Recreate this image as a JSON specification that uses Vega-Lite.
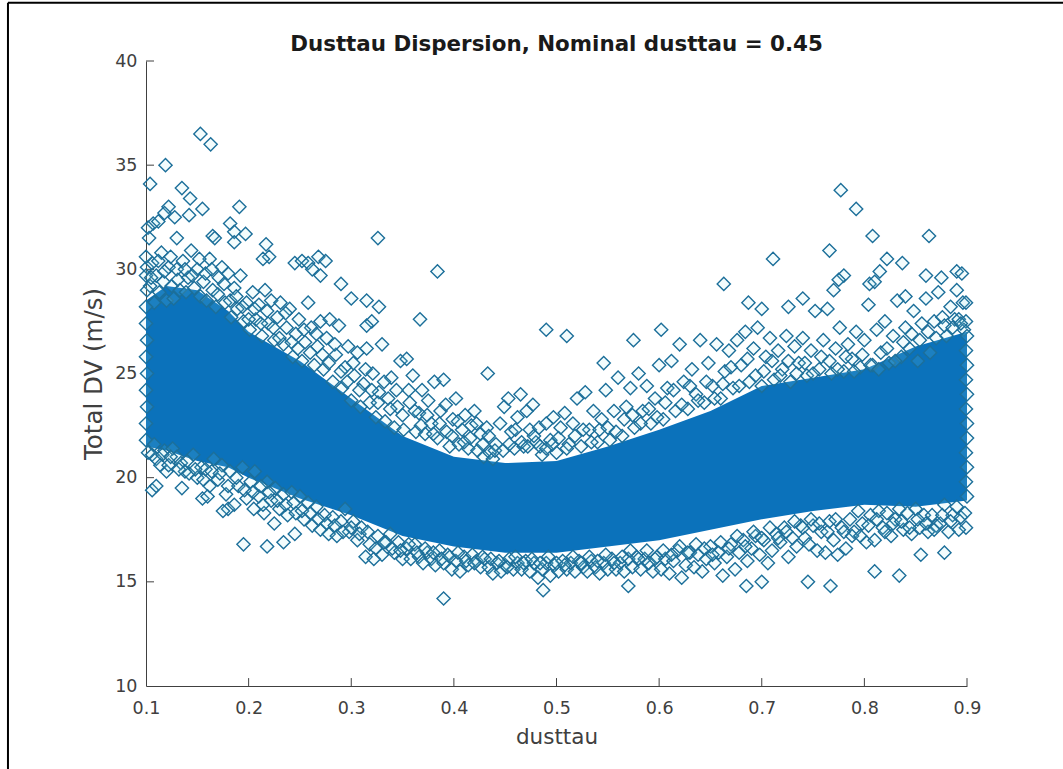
{"$schema":"https://vega.github.io/schema/vega-lite/v6.json","width":821,"height":625,"autosize":"none","padding":{"left":146,"top":61,"right":96,"bottom":83},"background":"white","view":{"stroke":null},
"title":{"text":"Dusttau Dispersion, Nominal dusttau = 0.45","font":"DejaVu Sans","fontSize":21.4,"fontWeight":"bold","color":"#1a1a1a","anchor":"middle","offset":-54},
"datasets":{"core":[{"x":0.1,"lo":21.5,"hi":28.5},{"x":0.12,"lo":21.3,"hi":29.2},{"x":0.15,"lo":20.8,"hi":29},{"x":0.18,"lo":20.5,"hi":28},{"x":0.2,"lo":20,"hi":27},{"x":0.25,"lo":19,"hi":25.6},{"x":0.3,"lo":18.2,"hi":23.8},{"x":0.35,"lo":17.2,"hi":22},{"x":0.4,"lo":16.7,"hi":21},{"x":0.45,"lo":16.4,"hi":20.7},{"x":0.5,"lo":16.4,"hi":20.8},{"x":0.55,"lo":16.7,"hi":21.5},{"x":0.6,"lo":17,"hi":22.3},{"x":0.65,"lo":17.5,"hi":23.2},{"x":0.7,"lo":18,"hi":24.4},{"x":0.75,"lo":18.4,"hi":24.8},{"x":0.8,"lo":18.7,"hi":25.2},{"x":0.85,"lo":18.6,"hi":26.3},{"x":0.9,"lo":18.9,"hi":27}],
"xt":[{"x":0.2,"a":10,"b":10.38},{"x":0.3,"a":10,"b":10.38},{"x":0.4,"a":10,"b":10.38},{"x":0.5,"a":10,"b":10.38},{"x":0.6,"a":10,"b":10.38},{"x":0.7,"a":10,"b":10.38},{"x":0.8,"a":10,"b":10.38},{"x":0.9,"a":10,"b":10.38}],
"yt":[{"y":15,"a":0.1,"b":0.1078},{"y":20,"a":0.1,"b":0.1078},{"y":25,"a":0.1,"b":0.1078},{"y":30,"a":0.1,"b":0.1078},{"y":35,"a":0.1,"b":0.1078},{"y":40,"a":0.1,"b":0.1078}],
"pts":[{"x":0.153,"y":36.5},{"x":0.163,"y":36},{"x":0.119,"y":35},{"x":0.104,"y":34.1},{"x":0.135,"y":33.9},{"x":0.143,"y":33.4},{"x":0.122,"y":33},{"x":0.118,"y":32.7},{"x":0.128,"y":32.5},{"x":0.142,"y":32.6},{"x":0.155,"y":32.9},{"x":0.191,"y":33},{"x":0.182,"y":32.2},{"x":0.186,"y":31.8},{"x":0.197,"y":31.7},{"x":0.107,"y":32.2},{"x":0.102,"y":32},{"x":0.112,"y":32.3},{"x":0.103,"y":31.5},{"x":0.13,"y":31.5},{"x":0.165,"y":31.6},{"x":0.167,"y":31.5},{"x":0.217,"y":31.2},{"x":0.186,"y":31.3},{"x":0.326,"y":31.5},{"x":0.22,"y":30.6},{"x":0.214,"y":30.5},{"x":0.245,"y":30.3},{"x":0.252,"y":30.4},{"x":0.258,"y":30.3},{"x":0.268,"y":30.6},{"x":0.275,"y":30.4},{"x":0.262,"y":30},{"x":0.27,"y":29.7},{"x":0.29,"y":29.3},{"x":0.3,"y":28.6},{"x":0.315,"y":28.5},{"x":0.327,"y":28.2},{"x":0.384,"y":29.9},{"x":0.367,"y":27.6},{"x":0.32,"y":27.5},{"x":0.315,"y":27.3},{"x":0.49,"y":27.1},{"x":0.51,"y":26.8},{"x":0.433,"y":25},{"x":0.546,"y":25.5},{"x":0.575,"y":26.6},{"x":0.602,"y":27.1},{"x":0.663,"y":29.3},{"x":0.711,"y":30.5},{"x":0.687,"y":28.4},{"x":0.7,"y":28.1},{"x":0.726,"y":28.2},{"x":0.74,"y":28.6},{"x":0.766,"y":30.9},{"x":0.777,"y":33.8},{"x":0.792,"y":32.9},{"x":0.808,"y":31.6},{"x":0.863,"y":31.6},{"x":0.78,"y":29.7},{"x":0.775,"y":29.5},{"x":0.77,"y":29},{"x":0.805,"y":29.3},{"x":0.81,"y":29.4},{"x":0.815,"y":29.9},{"x":0.822,"y":30.5},{"x":0.837,"y":30.3},{"x":0.84,"y":28.7},{"x":0.86,"y":29.7},{"x":0.875,"y":29.6},{"x":0.89,"y":29.9},{"x":0.895,"y":29.8},{"x":0.89,"y":29},{"x":0.39,"y":14.2},{"x":0.487,"y":14.6},{"x":0.57,"y":14.8},{"x":0.685,"y":14.8},{"x":0.7,"y":15},{"x":0.745,"y":15},{"x":0.767,"y":14.8},{"x":0.834,"y":15.3},{"x":0.81,"y":15.5},{"x":0.855,"y":16.3},{"x":0.878,"y":16.4},{"x":0.195,"y":16.8},{"x":0.218,"y":16.7},{"x":0.234,"y":16.9},{"x":0.106,"y":19.4},{"x":0.11,"y":19.6},{"x":0.135,"y":19.5},{"x":0.155,"y":19},{"x":0.16,"y":19.1},{"x":0.12,"y":20.3},{"x":0.18,"y":18.5},{"x":0.175,"y":18.4},{"x":0.205,"y":18.5},{"x":0.215,"y":18.3},{"x":0.225,"y":17.8},{"x":0.245,"y":17.3},
{"x":0.101,"y":30.1},{"x":0.104,"y":29.2},{"x":0.106,"y":30.3},{"x":0.108,"y":28.4},{"x":0.11,"y":29.7},{"x":0.113,"y":28.9},{"x":0.115,"y":30.8},{"x":0.117,"y":29.4},{"x":0.12,"y":28.5},{"x":0.122,"y":30.1},{"x":0.125,"y":29.2},{"x":0.127,"y":28.6},{"x":0.13,"y":30},{"x":0.133,"y":29},{"x":0.136,"y":30.4},{"x":0.139,"y":28.9},{"x":0.141,"y":29.6},{"x":0.144,"y":30.9},{"x":0.147,"y":29.1},{"x":0.15,"y":30},{"x":0.153,"y":28.7},{"x":0.156,"y":29.4},{"x":0.159,"y":28.5},{"x":0.162,"y":30.5},{"x":0.165,"y":29},{"x":0.168,"y":28.2},{"x":0.171,"y":29.6},{"x":0.174,"y":30.1},{"x":0.177,"y":28.4},{"x":0.18,"y":29.8},{"x":0.183,"y":27.7},{"x":0.186,"y":29.1},{"x":0.189,"y":28.1},{"x":0.192,"y":29.7},{"x":0.195,"y":27.5},{"x":0.198,"y":28.4},{"x":0.201,"y":27.1},{"x":0.204,"y":28.9},{"x":0.207,"y":27.6},{"x":0.21,"y":28.3},{"x":0.213,"y":26.8},{"x":0.216,"y":29},{"x":0.219,"y":27.4},{"x":0.222,"y":28.5},{"x":0.225,"y":26.6},{"x":0.228,"y":27.7},{"x":0.231,"y":28.4},{"x":0.234,"y":26.4},{"x":0.237,"y":27.2},{"x":0.24,"y":28.1},{"x":0.243,"y":25.8},{"x":0.246,"y":26.9},{"x":0.249,"y":27.6},{"x":0.252,"y":25.6},{"x":0.255,"y":26.5},{"x":0.258,"y":28.4},{"x":0.261,"y":27.2},{"x":0.264,"y":25.4},{"x":0.267,"y":26.3},{"x":0.27,"y":27.5},{"x":0.273,"y":25.2},{"x":0.276,"y":26.7},{"x":0.279,"y":27.6},{"x":0.282,"y":24.6},{"x":0.285,"y":25.9},{"x":0.288,"y":27.3},{"x":0.291,"y":24.3},{"x":0.294,"y":25.3},{"x":0.297,"y":26.3},{"x":0.3,"y":23.7},{"x":0.303,"y":24.9},{"x":0.306,"y":26},{"x":0.309,"y":23.4},{"x":0.312,"y":24.5},{"x":0.315,"y":26.2},{"x":0.318,"y":23.6},{"x":0.321,"y":25},{"x":0.324,"y":22.9},{"x":0.327,"y":24.1},{"x":0.33,"y":26.4},{"x":0.333,"y":22.7},{"x":0.336,"y":23.8},{"x":0.339,"y":24.8},{"x":0.342,"y":22.4},{"x":0.345,"y":23.4},{"x":0.348,"y":25.6},{"x":0.351,"y":22.3},{"x":0.354,"y":25.7},{"x":0.357,"y":23.6},{"x":0.36,"y":24.9},{"x":0.363,"y":22.2},{"x":0.366,"y":23.1},{"x":0.369,"y":24.2},{"x":0.372,"y":22.1},{"x":0.375,"y":23.7},{"x":0.378,"y":22.6},{"x":0.381,"y":24.6},{"x":0.384,"y":21.9},{"x":0.387,"y":23.2},{"x":0.39,"y":24.7},{"x":0.393,"y":22.2},{"x":0.396,"y":21.5},{"x":0.399,"y":22.8},{"x":0.402,"y":23.8},{"x":0.405,"y":21.6},{"x":0.408,"y":22.3},{"x":0.411,"y":23},{"x":0.414,"y":21.4},{"x":0.417,"y":22.5},{"x":0.42,"y":23.2},{"x":0.423,"y":21.3},{"x":0.426,"y":22.1},{"x":0.429,"y":21},{"x":0.432,"y":22.4},{"x":0.435,"y":21.2},{"x":0.438,"y":20.9},{"x":0.441,"y":21.6},{"x":0.445,"y":22.6},{"x":0.449,"y":23.4},{"x":0.453,"y":23.8},{"x":0.456,"y":22.2},{"x":0.459,"y":21.4},{"x":0.462,"y":22.9},{"x":0.465,"y":24},{"x":0.468,"y":21.5},{"x":0.471,"y":23.2},{"x":0.474,"y":22.3},{"x":0.477,"y":23.5},{"x":0.48,"y":21.7},{"x":0.483,"y":22.4},{"x":0.486,"y":21.1},{"x":0.49,"y":22.6},{"x":0.494,"y":21.8},{"x":0.497,"y":22.9},{"x":0.5,"y":21.2},{"x":0.504,"y":22.4},{"x":0.508,"y":23.1},{"x":0.512,"y":21.6},{"x":0.516,"y":22.6},{"x":0.52,"y":23.8},{"x":0.524,"y":21.5},{"x":0.528,"y":24.1},{"x":0.532,"y":22.3},{"x":0.536,"y":23.2},{"x":0.54,"y":21.7},{"x":0.544,"y":22.8},{"x":0.548,"y":24.2},{"x":0.552,"y":21.8},{"x":0.556,"y":23.2},{"x":0.56,"y":24.8},{"x":0.564,"y":22},{"x":0.568,"y":23.4},{"x":0.572,"y":24.3},{"x":0.576,"y":22.4},{"x":0.58,"y":25},{"x":0.584,"y":23.2},{"x":0.588,"y":24.4},{"x":0.592,"y":22.6},{"x":0.596,"y":23.8},{"x":0.6,"y":25.4},{"x":0.604,"y":22.8},{"x":0.608,"y":24.3},{"x":0.612,"y":25.6},{"x":0.616,"y":23.2},{"x":0.62,"y":26.4},{"x":0.624,"y":24.6},{"x":0.628,"y":23.3},{"x":0.632,"y":25.2},{"x":0.636,"y":24},{"x":0.64,"y":26.6},{"x":0.644,"y":23.6},{"x":0.648,"y":25.5},{"x":0.652,"y":24.4},{"x":0.656,"y":26.4},{"x":0.66,"y":23.8},{"x":0.664,"y":25.1},{"x":0.668,"y":26.1},{"x":0.672,"y":24.3},{"x":0.676,"y":26.6},{"x":0.68,"y":25.4},{"x":0.684,"y":27},{"x":0.688,"y":24.6},{"x":0.692,"y":26.2},{"x":0.696,"y":27.2},{"x":0.7,"y":24.4},{"x":0.704,"y":25.8},{"x":0.708,"y":26.7},{"x":0.712,"y":24.7},{"x":0.716,"y":26.1},{"x":0.72,"y":25.2},{"x":0.724,"y":26.8},{"x":0.728,"y":24.6},{"x":0.732,"y":26.3},{"x":0.736,"y":25.5},{"x":0.74,"y":26.7},{"x":0.744,"y":24.9},{"x":0.748,"y":26.1},{"x":0.752,"y":28},{"x":0.756,"y":25.2},{"x":0.76,"y":26.6},{"x":0.764,"y":28.1},{"x":0.768,"y":25},{"x":0.772,"y":26.2},{"x":0.776,"y":27.2},{"x":0.78,"y":25.1},{"x":0.784,"y":26.4},{"x":0.788,"y":25.7},{"x":0.792,"y":27},{"x":0.796,"y":25.3},{"x":0.8,"y":26.6},{"x":0.804,"y":28.3},{"x":0.808,"y":25.4},{"x":0.812,"y":27.1},{"x":0.816,"y":26},{"x":0.82,"y":27.5},{"x":0.824,"y":25.5},{"x":0.828,"y":26.8},{"x":0.832,"y":28.5},{"x":0.836,"y":25.8},{"x":0.84,"y":27.2},{"x":0.844,"y":26.2},{"x":0.848,"y":28},{"x":0.852,"y":25.6},{"x":0.856,"y":27.4},{"x":0.86,"y":28.6},{"x":0.864,"y":26},{"x":0.868,"y":27.5},{"x":0.872,"y":28.9},{"x":0.876,"y":27.7},{"x":0.88,"y":26.8},{"x":0.884,"y":28.2},{"x":0.888,"y":27.6},{"x":0.892,"y":27.6},{"x":0.896,"y":28.4},{"x":0.899,"y":28.4},{"x":0.899,"y":27.5},{"x":0.897,"y":27.1},
{"x":0.102,"y":21.2},{"x":0.106,"y":21.1},{"x":0.11,"y":20.9},{"x":0.114,"y":20.6},{"x":0.118,"y":21.3},{"x":0.122,"y":20.6},{"x":0.126,"y":21.4},{"x":0.13,"y":21},{"x":0.134,"y":20.7},{"x":0.138,"y":20.3},{"x":0.142,"y":20.2},{"x":0.146,"y":21.1},{"x":0.15,"y":20},{"x":0.154,"y":20.5},{"x":0.158,"y":20.4},{"x":0.162,"y":19.6},{"x":0.166,"y":20.9},{"x":0.17,"y":19.9},{"x":0.174,"y":20.6},{"x":0.178,"y":19.2},{"x":0.182,"y":20.3},{"x":0.186,"y":18.7},{"x":0.19,"y":19.6},{"x":0.194,"y":20.5},{"x":0.198,"y":19},{"x":0.202,"y":19.8},{"x":0.206,"y":20.3},{"x":0.21,"y":19.1},{"x":0.214,"y":18.7},{"x":0.218,"y":19.8},{"x":0.222,"y":18.9},{"x":0.226,"y":19.5},{"x":0.23,"y":18.5},{"x":0.234,"y":19.2},{"x":0.238,"y":18.2},{"x":0.242,"y":19.3},{"x":0.246,"y":18.3},{"x":0.25,"y":19.1},{"x":0.254,"y":18},{"x":0.258,"y":18.8},{"x":0.262,"y":17.7},{"x":0.266,"y":18.6},{"x":0.27,"y":17.5},{"x":0.274,"y":18.2},{"x":0.278,"y":17.3},{"x":0.282,"y":18.1},{"x":0.286,"y":17.2},{"x":0.29,"y":17.9},{"x":0.294,"y":18.5},{"x":0.298,"y":17.4},{"x":0.302,"y":17.9},{"x":0.306,"y":17},{"x":0.31,"y":17.6},{"x":0.314,"y":16.2},{"x":0.318,"y":16.8},{"x":0.322,"y":16.1},{"x":0.326,"y":17.2},{"x":0.33,"y":16.3},{"x":0.334,"y":16.9},{"x":0.338,"y":17.3},{"x":0.342,"y":16.4},{"x":0.346,"y":16.9},{"x":0.35,"y":16.1},{"x":0.354,"y":16.6},{"x":0.358,"y":16.1},{"x":0.362,"y":16.8},{"x":0.366,"y":16.2},{"x":0.37,"y":15.9},{"x":0.374,"y":16.4},{"x":0.378,"y":16.1},{"x":0.382,"y":15.8},{"x":0.386,"y":16.5},{"x":0.39,"y":15.9},{"x":0.394,"y":16.3},{"x":0.398,"y":15.6},{"x":0.402,"y":16},{"x":0.406,"y":15.5},{"x":0.41,"y":16.2},{"x":0.414,"y":15.8},{"x":0.418,"y":16.3},{"x":0.422,"y":16},{"x":0.426,"y":15.7},{"x":0.43,"y":16.1},{"x":0.434,"y":15.7},{"x":0.438,"y":15.4},{"x":0.442,"y":15.9},{"x":0.446,"y":15.5},{"x":0.45,"y":15.8},{"x":0.454,"y":16.1},{"x":0.458,"y":15.6},{"x":0.462,"y":15.9},{"x":0.466,"y":15.6},{"x":0.47,"y":16},{"x":0.474,"y":15.5},{"x":0.478,"y":15.9},{"x":0.482,"y":15.2},{"x":0.486,"y":15.6},{"x":0.49,"y":15.9},{"x":0.494,"y":15.3},{"x":0.498,"y":15.8},{"x":0.502,"y":15.5},{"x":0.506,"y":16},{"x":0.51,"y":15.6},{"x":0.514,"y":15.9},{"x":0.518,"y":15.5},{"x":0.522,"y":16},{"x":0.526,"y":15.7},{"x":0.53,"y":15.5},{"x":0.534,"y":16},{"x":0.538,"y":15.7},{"x":0.542,"y":15.4},{"x":0.546,"y":15.9},{"x":0.55,"y":15.6},{"x":0.554,"y":16.1},{"x":0.558,"y":15.6},{"x":0.562,"y":15.9},{"x":0.566,"y":15.5},{"x":0.57,"y":16.1},{"x":0.574,"y":15.7},{"x":0.578,"y":16.2},{"x":0.582,"y":15.6},{"x":0.586,"y":16.1},{"x":0.59,"y":15.9},{"x":0.594,"y":15.5},{"x":0.598,"y":16.2},{"x":0.602,"y":15.6},{"x":0.606,"y":16.1},{"x":0.61,"y":15.4},{"x":0.614,"y":16},{"x":0.618,"y":16.5},{"x":0.622,"y":15.2},{"x":0.626,"y":15.8},{"x":0.63,"y":16.4},{"x":0.634,"y":15.7},{"x":0.638,"y":16.3},{"x":0.642,"y":15.5},{"x":0.646,"y":16.1},{"x":0.65,"y":16.7},{"x":0.654,"y":15.9},{"x":0.658,"y":16.4},{"x":0.662,"y":15.3},{"x":0.666,"y":16.2},{"x":0.67,"y":16.8},{"x":0.674,"y":15.6},{"x":0.678,"y":16.4},{"x":0.682,"y":17},{"x":0.686,"y":16},{"x":0.69,"y":16.6},{"x":0.694,"y":17.2},{"x":0.698,"y":16.3},{"x":0.702,"y":17},{"x":0.706,"y":15.9},{"x":0.71,"y":16.5},{"x":0.714,"y":17.3},{"x":0.718,"y":16.9},{"x":0.722,"y":17.6},{"x":0.726,"y":16.2},{"x":0.73,"y":17.1},{"x":0.734,"y":16.7},{"x":0.738,"y":17.7},{"x":0.742,"y":17.1},{"x":0.746,"y":16.8},{"x":0.75,"y":17.7},{"x":0.754,"y":16.5},{"x":0.758,"y":17.4},{"x":0.762,"y":16.4},{"x":0.766,"y":17.9},{"x":0.77,"y":17},{"x":0.774,"y":16.3},{"x":0.778,"y":17.6},{"x":0.782,"y":16.6},{"x":0.786,"y":18},{"x":0.79,"y":17.4},{"x":0.794,"y":18.4},{"x":0.798,"y":17.8},{"x":0.802,"y":16.9},{"x":0.806,"y":18.2},{"x":0.81,"y":17},{"x":0.814,"y":18.4},{"x":0.818,"y":17.6},{"x":0.822,"y":18.3},{"x":0.826,"y":17.2},{"x":0.83,"y":18},{"x":0.834,"y":18.5},{"x":0.838,"y":17.5},{"x":0.842,"y":18.3},{"x":0.846,"y":17.3},{"x":0.85,"y":18.5},{"x":0.854,"y":17.6},{"x":0.858,"y":18.2},{"x":0.862,"y":17.4},{"x":0.866,"y":18.2},{"x":0.87,"y":17.7},{"x":0.874,"y":17.8},{"x":0.878,"y":18.7},{"x":0.882,"y":17.4},{"x":0.886,"y":18.2},{"x":0.89,"y":18.6},{"x":0.894,"y":18.1},{"x":0.898,"y":18.3},{"x":0.899,"y":17.6},
{"x":0.1,"y":21.8},{"x":0.1,"y":22.6},{"x":0.101,"y":23.4},{"x":0.1,"y":24.2},{"x":0.101,"y":25},{"x":0.1,"y":25.8},{"x":0.101,"y":26.6},{"x":0.1,"y":27.4},{"x":0.1,"y":28.2},{"x":0.101,"y":29},{"x":0.1,"y":29.7},{"x":0.1,"y":30.6},{"x":0.9,"y":19.1},{"x":0.899,"y":19.8},{"x":0.9,"y":20.5},{"x":0.899,"y":21.2},{"x":0.9,"y":21.9},{"x":0.9,"y":22.6},{"x":0.899,"y":23.3},{"x":0.9,"y":24},{"x":0.899,"y":24.7},{"x":0.9,"y":25.4},{"x":0.899,"y":26.1},{"x":0.9,"y":26.8},
{"x":0.105,"y":29.6},{"x":0.112,"y":30.4},{"x":0.118,"y":29.9},{"x":0.124,"y":30.6},{"x":0.131,"y":29.5},{"x":0.138,"y":30},{"x":0.145,"y":29.7},{"x":0.152,"y":30.5},{"x":0.158,"y":29.8},{"x":0.164,"y":30},{"x":0.17,"y":28.8},{"x":0.176,"y":29.3},{"x":0.182,"y":28.5},{"x":0.188,"y":28.7},{"x":0.194,"y":28.2},{"x":0.2,"y":27.6},{"x":0.206,"y":28.1},{"x":0.212,"y":27.4},{"x":0.218,"y":28},{"x":0.224,"y":27.2},{"x":0.23,"y":26.7},{"x":0.236,"y":27.9},{"x":0.242,"y":26.5},{"x":0.248,"y":26.2},{"x":0.254,"y":27.1},{"x":0.26,"y":26},{"x":0.266,"y":26.9},{"x":0.272,"y":25.9},{"x":0.278,"y":25.5},{"x":0.284,"y":26.4},{"x":0.29,"y":25.1},{"x":0.296,"y":24.6},{"x":0.302,"y":25.5},{"x":0.308,"y":24.2},{"x":0.314,"y":25.2},{"x":0.32,"y":24.2},{"x":0.326,"y":23.6},{"x":0.332,"y":24.6},{"x":0.338,"y":23.3},{"x":0.344,"y":24.2},{"x":0.35,"y":23},{"x":0.356,"y":24.2},{"x":0.362,"y":23.2},{"x":0.368,"y":22.5},{"x":0.374,"y":23},{"x":0.38,"y":22.1},{"x":0.386,"y":22.6},{"x":0.392,"y":23.5},{"x":0.398,"y":22},{"x":0.404,"y":22.7},{"x":0.41,"y":21.7},{"x":0.416,"y":21.9},{"x":0.422,"y":22.6},{"x":0.428,"y":21.6},{"x":0.434,"y":22},{"x":0.44,"y":21.3},{"x":0.448,"y":21.3},{"x":0.454,"y":21.6},{"x":0.46,"y":22.3},{"x":0.466,"y":21.7},{"x":0.472,"y":21.5},{"x":0.478,"y":22},{"x":0.484,"y":21.5},{"x":0.49,"y":21.4},{"x":0.496,"y":21.6},{"x":0.502,"y":21.9},{"x":0.51,"y":21.4},{"x":0.518,"y":22},{"x":0.526,"y":22.3},{"x":0.534,"y":21.7},{"x":0.542,"y":22.3},{"x":0.55,"y":22.4},{"x":0.558,"y":22.2},{"x":0.566,"y":22.8},{"x":0.574,"y":23},{"x":0.582,"y":22.6},{"x":0.59,"y":23.3},{"x":0.598,"y":22.9},{"x":0.606,"y":23.6},{"x":0.614,"y":24.2},{"x":0.622,"y":23.5},{"x":0.63,"y":24.4},{"x":0.638,"y":23.7},{"x":0.646,"y":24.6},{"x":0.654,"y":23.8},{"x":0.662,"y":24.5},{"x":0.67,"y":25.3},{"x":0.678,"y":24.4},{"x":0.686,"y":25.7},{"x":0.694,"y":24.9},{"x":0.702,"y":25.1},{"x":0.71,"y":25.6},{"x":0.718,"y":24.9},{"x":0.726,"y":25.6},{"x":0.734,"y":25},{"x":0.742,"y":25.5},{"x":0.75,"y":25},{"x":0.758,"y":25.8},{"x":0.766,"y":25.6},{"x":0.774,"y":25.2},{"x":0.782,"y":25.8},{"x":0.79,"y":25.1},{"x":0.798,"y":25.9},{"x":0.806,"y":25.4},{"x":0.814,"y":25.2},{"x":0.822,"y":26.2},{"x":0.83,"y":25.6},{"x":0.838,"y":26.5},{"x":0.846,"y":26.9},{"x":0.854,"y":26.6},{"x":0.862,"y":27},{"x":0.87,"y":26.7},{"x":0.878,"y":27.3},{"x":0.886,"y":27.2},{"x":0.894,"y":27.4},
{"x":0.108,"y":21.6},{"x":0.116,"y":21.1},{"x":0.124,"y":21},{"x":0.132,"y":20.4},{"x":0.14,"y":20.8},{"x":0.148,"y":20.4},{"x":0.156,"y":19.9},{"x":0.164,"y":20.3},{"x":0.172,"y":20.2},{"x":0.18,"y":19.6},{"x":0.188,"y":20},{"x":0.196,"y":19.4},{"x":0.204,"y":19.3},{"x":0.212,"y":19.6},{"x":0.22,"y":19.3},{"x":0.228,"y":18.9},{"x":0.236,"y":18.7},{"x":0.244,"y":18.8},{"x":0.252,"y":18.4},{"x":0.26,"y":18.3},{"x":0.268,"y":18},{"x":0.276,"y":17.8},{"x":0.284,"y":17.7},{"x":0.292,"y":17.4},{"x":0.3,"y":17.6},{"x":0.308,"y":17.3},{"x":0.316,"y":17.4},{"x":0.324,"y":16.6},{"x":0.332,"y":16.9},{"x":0.34,"y":16.6},{"x":0.348,"y":16.5},{"x":0.356,"y":16.8},{"x":0.364,"y":16.4},{"x":0.372,"y":16.6},{"x":0.38,"y":16.4},{"x":0.388,"y":16.1},{"x":0.396,"y":16.2},{"x":0.404,"y":16.4},{"x":0.412,"y":16},{"x":0.42,"y":15.9},{"x":0.428,"y":16.2},{"x":0.436,"y":16.1},{"x":0.444,"y":16},{"x":0.452,"y":15.7},{"x":0.46,"y":16.2},{"x":0.468,"y":15.9},{"x":0.476,"y":16.1},{"x":0.484,"y":15.9},{"x":0.492,"y":16.2},{"x":0.5,"y":15.9},{"x":0.508,"y":15.8},{"x":0.516,"y":16.2},{"x":0.524,"y":15.9},{"x":0.532,"y":16.2},{"x":0.54,"y":16},{"x":0.548,"y":16.3},{"x":0.556,"y":15.9},{"x":0.564,"y":16.2},{"x":0.572,"y":16.5},{"x":0.58,"y":16.1},{"x":0.588,"y":16.5},{"x":0.596,"y":16.1},{"x":0.604,"y":16.5},{"x":0.612,"y":16.3},{"x":0.62,"y":16.7},{"x":0.628,"y":16.4},{"x":0.636,"y":16.8},{"x":0.644,"y":16.6},{"x":0.652,"y":16.3},{"x":0.66,"y":16.9},{"x":0.668,"y":16.6},{"x":0.676,"y":17.2},{"x":0.684,"y":16.7},{"x":0.692,"y":17.4},{"x":0.7,"y":17.1},{"x":0.708,"y":17.6},{"x":0.716,"y":17.1},{"x":0.724,"y":17.4},{"x":0.732,"y":17.9},{"x":0.74,"y":17.6},{"x":0.748,"y":18},{"x":0.756,"y":17.8},{"x":0.764,"y":17.4},{"x":0.772,"y":18},{"x":0.78,"y":17.4},{"x":0.788,"y":17.2},{"x":0.796,"y":17.2},{"x":0.804,"y":17.7},{"x":0.812,"y":18},{"x":0.82,"y":17.4},{"x":0.828,"y":17.8},{"x":0.836,"y":17.9},{"x":0.844,"y":17.6},{"x":0.852,"y":18},{"x":0.86,"y":17.8},{"x":0.868,"y":17.5},{"x":0.876,"y":18.2},{"x":0.884,"y":17.9},{"x":0.892,"y":17.5}],
"left":[{"x":-0.0345,"y":6,"y2":42.8}],"top":[{"x":-0.0345,"x2":1.0,"y":42.8}]},
"layer":[
{"data":{"name":"left"},"mark":{"type":"rule","color":"#000000","strokeWidth":2,"clip":false},"encoding":{"x":{"field":"x","type":"quantitative","scale":{"domain":[0.1,0.9],"nice":false,"zero":false}},"y":{"field":"y","type":"quantitative","scale":{"domain":[10,40],"nice":false,"zero":false}},"y2":{"field":"y2"}}},
{"data":{"name":"top"},"mark":{"type":"rule","color":"#000000","strokeWidth":2,"clip":false},"encoding":{"x":{"field":"x","type":"quantitative"},"x2":{"field":"x2"},"y":{"field":"y","type":"quantitative"}}},
{"data":{"name":"xt"},"mark":{"type":"rule","color":"#404040","strokeWidth":1},"encoding":{"x":{"field":"x","type":"quantitative"},"y":{"field":"a","type":"quantitative"},"y2":{"field":"b"}}},
{"data":{"name":"yt"},"mark":{"type":"rule","color":"#404040","strokeWidth":1},"encoding":{"y":{"field":"y","type":"quantitative"},"x":{"field":"a","type":"quantitative"},"x2":{"field":"b"}}},
{"data":{"name":"core"},"mark":{"type":"area","color":"#0b72bb","opacity":1},"encoding":{"x":{"field":"x","type":"quantitative"},"y":{"field":"lo","type":"quantitative"},"y2":{"field":"hi"}}},
{"data":{"name":"pts"},"mark":{"type":"point","shape":"diamond","filled":true,"fill":"#9fe3f2","fillOpacity":0.12,"stroke":"#1c6f9a","strokeWidth":1.4,"size":175},"encoding":{"x":{"field":"x","type":"quantitative","title":"dusttau","axis":{"values":[0.1,0.2,0.3,0.4,0.5,0.6,0.7,0.8,0.9],"format":".1f","grid":false,"ticks":false,"domainColor":"#404040","labelPadding":13,"labelColor":"#404040","labelFont":"DejaVu Sans","labelFontSize":17.5,"labelFlush":false,"titleColor":"#404040","titleFont":"DejaVu Sans","titleFontSize":21.5,"titleFontWeight":"normal","titlePadding":10}},"y":{"field":"y","type":"quantitative","title":"Total DV (m/s)","axis":{"values":[10,15,20,25,30,35,40],"grid":false,"ticks":false,"domainColor":"#404040","labelPadding":9,"labelColor":"#404040","labelFont":"DejaVu Sans","labelFontSize":17.5,"titleColor":"#404040","titleFont":"DejaVu Sans","titleFontSize":24.5,"titleFontWeight":"normal","titlePadding":8}}}}
]}
